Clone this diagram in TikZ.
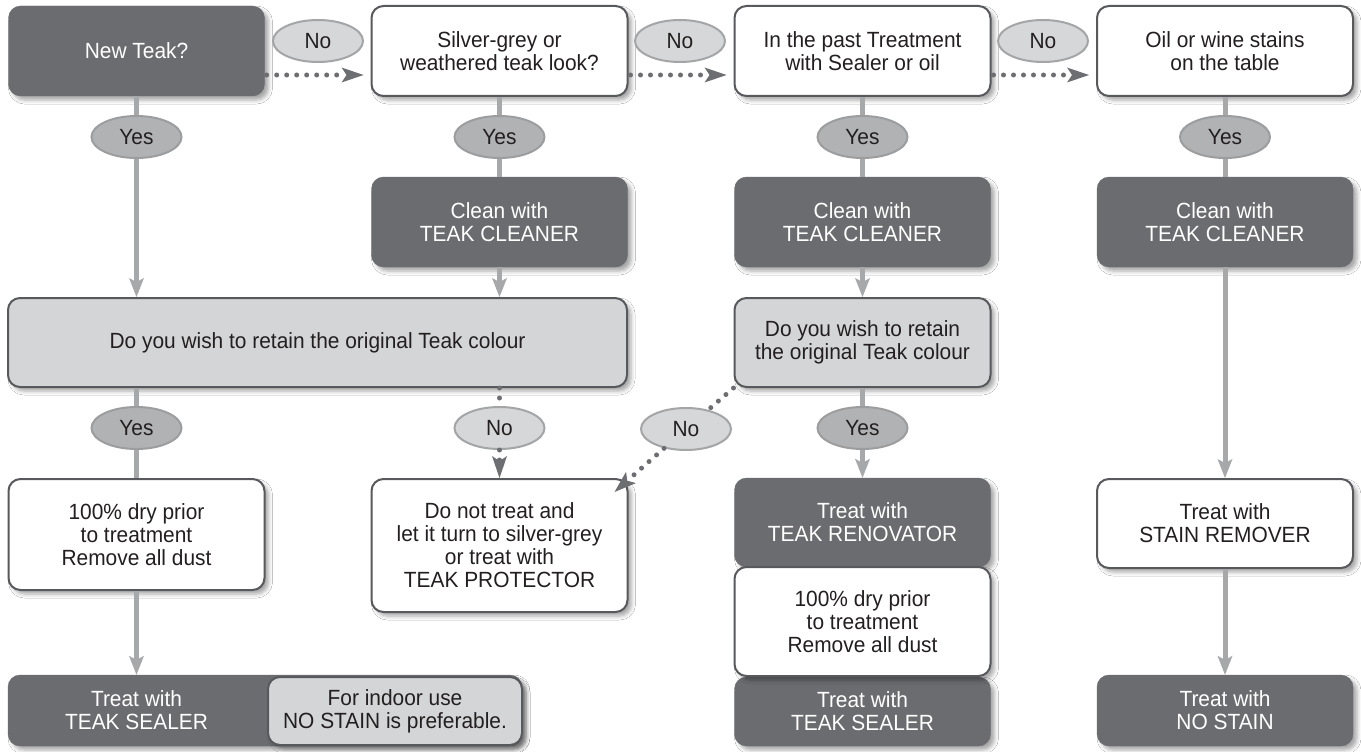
\documentclass[tikz,border=0pt]{standalone}
\usepackage{fontspec}
\setmainfont{Liberation Sans}[FakeStretch=0.95]
\usepackage{tikz}
\usetikzlibrary{shapes.geometric, arrows.meta, calc, shadows.blur}
\usepackage{xcolor}
\definecolor{boxdark}{HTML}{6B6C70}
\definecolor{boxedge}{HTML}{58595C}
\definecolor{boxlight}{HTML}{D4D5D7}
\definecolor{textdark}{HTML}{231F20}
\definecolor{yesfill}{HTML}{B1B2B4}
\definecolor{yesedge}{HTML}{9C9D9F}
\definecolor{nofill}{HTML}{D6D7D9}
\definecolor{noedge}{HTML}{A4A5A7}
\definecolor{linegrey}{HTML}{A7A8AA}
\definecolor{dotgrey}{HTML}{6D6E71}

\begin{document}
\begin{tikzpicture}[x=1pt, y=-1pt,
    every node/.style={font=\fontsize{22}{23}\selectfont, align=center},
    teakshadow/.style={blur shadow={shadow xshift=4pt, shadow yshift=-4pt, shadow blur radius=4pt, shadow opacity=35}},
    darkbox/.style={rectangle, rounded corners=12pt, minimum width=256pt, fill=boxdark, draw=boxdark, text=white, teakshadow},
    whitebox/.style={rectangle, rounded corners=12pt, minimum width=256pt, fill=white, draw=boxedge, line width=2pt, text=textdark, teakshadow},
    greybox/.style={whitebox, fill=boxlight},
    yesmark/.style={ellipse, minimum width=90pt, minimum height=42pt, inner sep=0pt, fill=yesfill, draw=yesedge, line width=2pt, text=textdark},
    nomark/.style={yesmark, fill=nofill, draw=noedge},
    yesline/.style={draw=linegrey, line width=5pt},
    yesarrow/.style={yesline, -{Stealth[length=19pt, width=15pt, inset=4pt, line width=0pt]}},
    nodots/.style={draw=dotgrey, line width=5pt, line cap=round, dash pattern=on 0pt off 10pt},
    noarrow/.style={nodots, -{Stealth[length=22pt, width=15pt, inset=5pt, line width=0pt]}}]
    \fill[white] (0,0) rectangle (1361,752);
    \useasboundingbox (0,0) rectangle (1361,752);
    % questions
    \node[darkbox, minimum height=90pt] (newteak) at (136.5,51) {New Teak?};
    \node[whitebox, minimum height=90pt] (silver) at (499.5,51) {Silver-grey or\\weathered teak look?};
    \node[whitebox, minimum height=90pt] (past) at (862.5,51) {In the past Treatment\\with Sealer or oil};
    \node[whitebox, minimum height=90pt] (stains) at (1225,51) {Oil or wine stains\\on the table};
    % cleaning
    \node[darkbox, minimum height=90pt] (clean2) at (499.5,222) {Clean with\\TEAK CLEANER};
    \node[darkbox, minimum height=90pt] (clean3) at (862.5,222) {Clean with\\TEAK CLEANER};
    \node[darkbox, minimum height=90pt] (clean4) at (1225,222) {Clean with\\TEAK CLEANER};
    % colour
    \node[greybox, minimum width=619pt, minimum height=89pt] (retain1) at (317.5,342.5) {Do you wish to retain the original Teak colour};
    \node[greybox, minimum height=89pt] (retain2) at (862.5,342.5) {Do you wish to retain\\the original Teak colour};
    % treatment
    \node[whitebox, minimum height=111pt] (dry1) at (136.5,534.5) {100\% dry prior\\to treatment\\Remove all dust};
    \node[whitebox, minimum height=133pt] (untreated) at (499.5,545.5) {Do not treat and\\let it turn to silver-grey\\or treat with\\TEAK PROTECTOR};
    \node[darkbox, minimum height=89pt] (renovator) at (862.5,522.5) {Treat with\\TEAK RENOVATOR};
    \node[darkbox, minimum height=69pt] (sealer3) at (862.5,711.5) {Treat with\\TEAK SEALER};
    \node[whitebox, minimum height=109pt] (dry3) at (862.5,621.5) {100\% dry prior\\to treatment\\Remove all dust};
    \node[whitebox, minimum height=89pt] (remover) at (1225,523.5) {Treat with\\STAIN REMOVER};
    \node[darkbox, minimum height=71pt] (nostain) at (1225,710.5) {Treat with\\NO STAIN};
    \node[darkbox, minimum width=514pt, minimum height=71pt] (sealer1) at (265,710.5) {};
    \node[text=white] (sealertext) at (136.5,710.5) {Treat with\\TEAK SEALER};
    \node[greybox, minimum width=254pt, minimum height=68pt] (indoor) at (395,711) {For indoor use\\NO STAIN is preferable.};
    % answers
    \node[yesmark] (yes1) at (136.5,137) {Yes};
    \node[yesmark] (yes2) at (499.5,137) {Yes};
    \node[yesmark] (yes3) at (862.5,137) {Yes};
    \node[yesmark] (yes4) at (1225,137) {Yes};
    \node[nomark] (no1) at (318,41) {No};
    \node[nomark] (no2) at (680,41) {No};
    \node[nomark] (no3) at (1043,41) {No};
    \node[yesmark] (yes5) at (136.5,428) {Yes};
    \node[nomark] (no4) at (499.5,428) {No};
    \node[nomark] (no5) at (686,429) {No};
    \node[yesmark] (yes6) at (862.5,428) {Yes};
    % yes branches
    \draw[yesline] (newteak) -- (yes1);
    \draw[yesarrow] (yes1) -- (yes1 |- retain1.north);
    \draw[yesline] (silver) -- (yes2) -- (clean2);
    \draw[yesarrow] (clean2) -- (clean2 |- retain1.north);
    \draw[yesline] (past) -- (yes3) -- (clean3);
    \draw[yesarrow] (clean3) -- (retain2);
    \draw[yesline] (stains) -- (yes4) -- (clean4);
    \draw[yesarrow] (clean4) -- (remover);
    \draw[yesarrow] (remover) -- (nostain);
    \draw[yesline] (retain1.south -| yes5) -- (yes5) -- (dry1);
    \draw[yesarrow] (dry1) -- (dry1 |- sealer1.north);
    \draw[yesline] (retain2) -- (yes6);
    \draw[yesarrow] (yes6) -- (renovator);
    % no branches
    \draw[noarrow, shorten >=7pt] ($(newteak.east)+(2,24)$) -- ($(silver.west)+(0,24)$);
    \draw[noarrow, shorten >=7pt] ($(silver.east)+(2,24)$) -- ($(past.west)+(0,24)$);
    \draw[noarrow, shorten >=7pt] ($(past.east)+(2,24)$) -- ($(stains.west)+(0,24)$);
    \draw[nodots] (retain1.south -| no4) -- (no4);
    \draw[noarrow] (no4) -- (untreated);
    \draw[nodots] (retain2.south west) -- (no5);
    \draw[noarrow] (no5) -- ($(untreated.north east)+(-14,14)$);
\end{tikzpicture}
\end{document}
